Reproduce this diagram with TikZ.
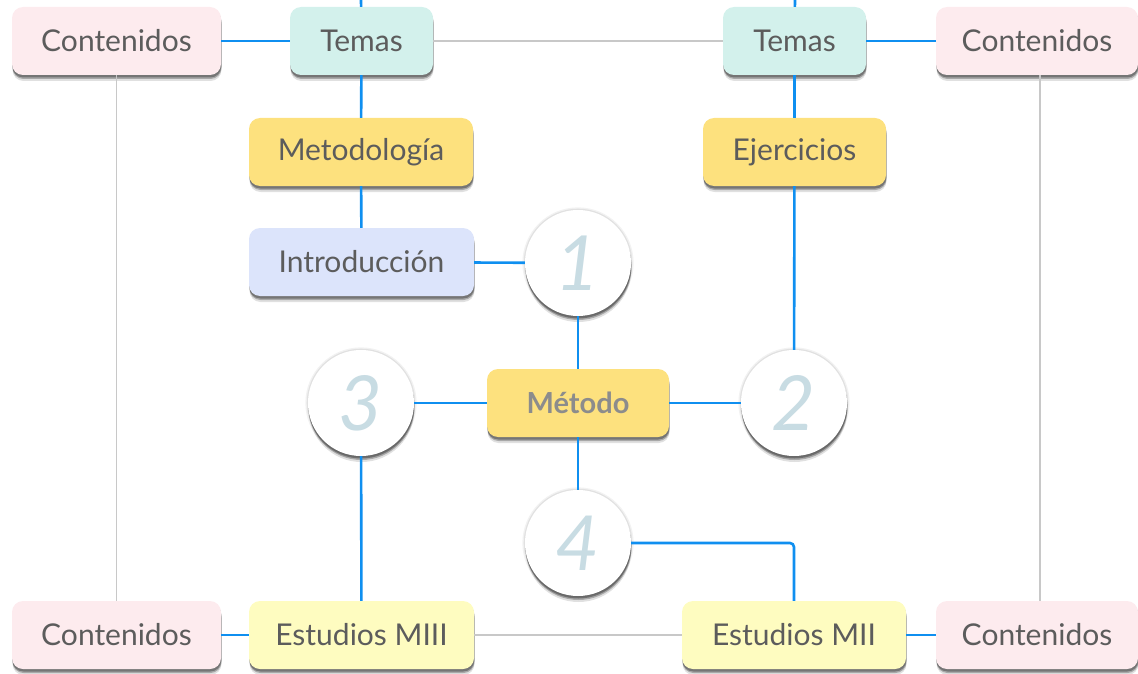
\documentclass[tikz,border=0pt]{standalone}
\usepackage{fontspec}
\setmainfont{Lato}
\usetikzlibrary{shadows,calc}
\definecolor{pinkbox}{HTML}{FDEBEE}
\definecolor{tealbox}{HTML}{D3F1EC}
\definecolor{yellowbox}{HTML}{FDE17E}
\definecolor{bluebox}{HTML}{DCE4FB}
\definecolor{paleyellow}{HTML}{FEFCC0}
\definecolor{linkblue}{HTML}{0F8FF0}
\definecolor{linkgray}{HTML}{C8C8C8}
\definecolor{txtgray}{HTML}{5C5C5C}
\definecolor{numcol}{HTML}{C8DCE3}
\tikzset{
  softshadow/.style={
    drop shadow={shadow xshift=0.5pt, shadow yshift=-6pt, opacity=0.12, fill=black},
    drop shadow={shadow xshift=0.5pt, shadow yshift=-4pt, opacity=0.25, fill=black},
    drop shadow={shadow xshift=0.3pt, shadow yshift=-2.5pt, opacity=0.3, fill=black}},
  box/.style={rectangle, rounded corners=11pt, minimum height=68pt, inner sep=0pt,
    text=txtgray, font=\fontsize{30}{33}\selectfont, softshadow},
  numcirc/.style={circle, fill=white, minimum size=106pt, inner sep=0pt,
    text=numcol, font=\fontsize{76}{76}\selectfont\itshape,
    drop shadow={shadow xshift=0pt, shadow yshift=0pt, shadow scale=1.05, opacity=0.05, fill=black},
    drop shadow={shadow xshift=0pt, shadow yshift=0pt, shadow scale=1.025, opacity=0.07, fill=black},
    softshadow},
  bl/.style={draw=linkblue, line width=2.6pt},
  gl/.style={draw=linkgray, line width=1.8pt},
}
\begin{document}
\begin{tikzpicture}[x=1pt,y=-1pt]
\useasboundingbox (0,0) rectangle (1138,674);
% nodes
\node[box, fill=pinkbox, minimum width=209pt] (ctl) at (116.5,41) {Contenidos};
\node[box, fill=tealbox, minimum width=143pt] (ttl) at (361.5,41) {Temas};
\node[box, fill=tealbox, minimum width=143pt] (ttr) at (794.5,41) {Temas};
\node[box, fill=pinkbox, minimum width=202pt] (ctr) at (1037,41) {Contenidos};
\node[box, fill=yellowbox, minimum width=224pt] (met) at (361,152) {Metodología};
\node[box, fill=yellowbox, minimum width=183pt] (eje) at (794.5,152) {Ejercicios};
\node[box, fill=bluebox, minimum width=225pt] (intro) at (361.5,262) {Introducción};
\node[box, fill=yellowbox, minimum width=182pt, font=\fontsize{29}{32}\selectfont\bfseries, text=black!45] (metodo) at (578,403) {Método};
\node[numcirc] (n1) at (578,263) {1};
\node[numcirc] (n3) at (361,403) {3};
\node[numcirc] (n2) at (794,403) {2};
\node[numcirc] (n4) at (578,543) {4};
\node[box, fill=pinkbox, minimum width=209pt] (cbl) at (116.5,635) {Contenidos};
\node[box, fill=paleyellow, minimum width=225pt] (emiii) at (361.5,635) {Estudios MIII};
\node[box, fill=paleyellow, minimum width=224pt] (emii) at (794,635) {Estudios MII};
\node[box, fill=pinkbox, minimum width=202pt] (cbr) at (1037,635) {Contenidos};
\coordinate (topL) at (361,0);
\coordinate (topR) at (795,0);
% connectors
\draw[bl] (topL) -- (ttl);
\draw[bl] (topR) -- (ttr);
\draw[bl] (ctl) -- (ttl);
\draw[gl] (ttl) -- (ttr);
\draw[bl] (ttr) -- (ctr);
\draw[bl] (ttl) -- (met);
\draw[bl] (met) -- (intro);
\draw[bl] (intro) -- (n1);
\draw[bl] (n1) -- (metodo);
\draw[bl] (metodo) -- (n3);
\draw[bl] (metodo) -- (n2);
\draw[bl] (metodo) -- (n4);
\draw[bl] (ttr) -- (eje);
\draw[bl] (eje) -- (n2);
\draw[bl] (n3) -- (emiii);
\draw[bl, rounded corners=4pt] (n4.east) -- (n4.east -| emii.north) -- (emii.north);
\draw[bl] (cbl) -- (emiii);
\draw[gl] (emiii) -- (emii);
\draw[bl] (emii) -- (cbr);
\draw[gl] (ctl) -- (cbl);
\draw[gl] (ctr.south -| 1040,0) -- (cbr.north -| 1040,0);
\end{tikzpicture}
\end{document}
